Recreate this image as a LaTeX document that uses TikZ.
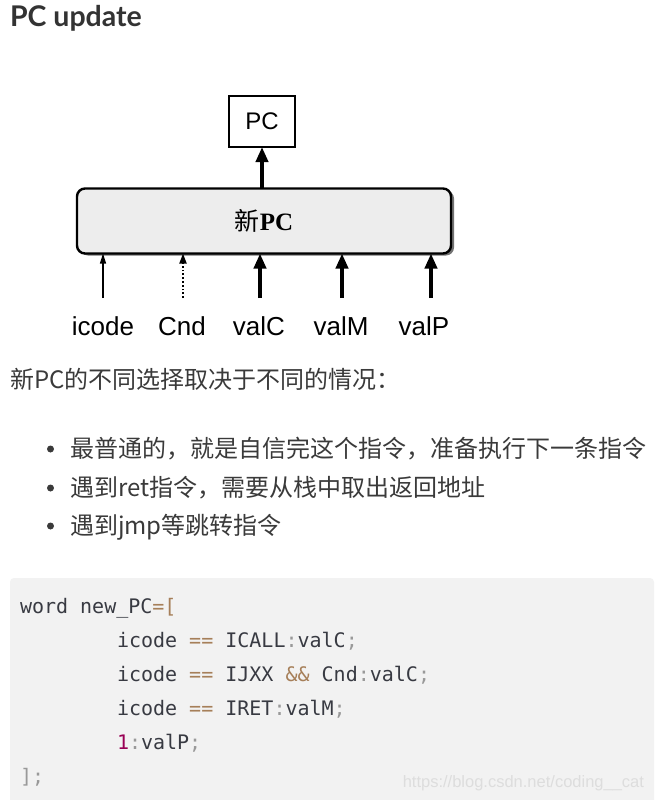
\documentclass[tikz,border=0pt]{standalone}
\usepackage{fontspec}
\setmainfont{Lato}
\newfontfamily\cjkfont{Noto Sans CJK SC}
\newfontfamily\scanfont{Liberation Sans}
\newfontfamily\scanserif{Liberation Serif}
\newfontfamily\codefont{DejaVu Sans Mono}
\usetikzlibrary{arrows.meta, positioning, shadows}
\definecolor{headgray}{HTML}{333333}
\definecolor{bodygray}{HTML}{3A3A3A}
\definecolor{codebg}{HTML}{F2F2F2}
\definecolor{codeink}{HTML}{383A42}
\definecolor{codeop}{HTML}{A67F59}
\definecolor{codepunct}{HTML}{999999}
\definecolor{codenum}{HTML}{990055}
\definecolor{boxfill}{HTML}{EDEDED}
\definecolor{markgray}{HTML}{DDDDDD}

\begin{document}
\begin{tikzpicture}[
  x=1pt, y=-1pt,
  every node/.style={inner sep=0pt, outer sep=0pt},
  heading/.style={anchor=base west, font=\fontsize{28.5pt}{34pt}\selectfont\bfseries, text=headgray},
  bodytext/.style={anchor=base west, font=\cjkfont\fontsize{24pt}{30pt}\selectfont, text=bodygray},
  bulletdot/.style={circle, fill=bodygray, minimum size=7pt},
  codeline/.style={anchor=base west, font=\codefont\fontsize{20pt}{24pt}\selectfont, text=codeink},
  regbox/.style={draw, line width=2pt, fill=white, minimum width=66pt, minimum height=51pt, font=\scanfont\fontsize{24pt}{28pt}\selectfont},
  logicbox/.style={draw, line width=2.4pt, rounded corners=8pt, fill=boxfill, minimum width=374pt, minimum height=65pt,
    font=\fontsize{25pt}{30pt}\selectfont, drop shadow={shadow xshift=3pt, shadow yshift=-2pt, fill=black!55, opacity=1}},
  sig/.style={anchor=base, font=\scanfont\fontsize{26pt}{30pt}\selectfont},
  wordwire/.style={line width=4pt, -{Triangle[length=15pt, width=12pt]}},
  bitwire/.style={line width=1.3pt, -{Triangle[length=10pt, width=6pt]}},
  condwire/.style={line width=1.8pt, dotted, -{Triangle[length=10pt, width=7pt]}}
]
\useasboundingbox (0,0) rectangle (654,800);

\node[heading] (title) at (10,27) {PC update};

\node[regbox] (pc) at (262,121.5) {PC};
\node[logicbox] (newpc) at (264,221) {{\cjkfont 新}{\scanserif\bfseries PC}};
\draw[wordwire] (newpc.north -| pc.south) -- (pc.south);

\node[sig] (icode) at (103,335) {icode};
\node[sig] (cnd) at (182,335) {Cnd};
\node[sig] (valc) at (259,335) {valC};
\node[sig] (valm) at (341,335) {valM};
\node[sig] (valp) at (424,335) {valP};
\coordinate (icode-in) at (103,298);
\coordinate (cnd-in) at (183,298);
\coordinate (valc-in) at (260,298);
\coordinate (valm-in) at (342,298);
\coordinate (valp-in) at (431,298);
\draw[bitwire] (icode-in) -- (newpc.south -| icode-in);
\draw[condwire] (cnd-in) -- (newpc.south -| cnd-in);
\draw[wordwire] (valc-in) -- (newpc.south -| valc-in);
\draw[wordwire] (valm-in) -- (newpc.south -| valm-in);
\draw[wordwire] (valp-in) -- (newpc.south -| valp-in);

\node[bodytext] (intro) at (10,388) {新PC的不同选择取决于不同的情况：};
\node[bulletdot] (dot1) at (50.5,449) {};
\node[bulletdot] (dot2) at (50.5,488) {};
\node[bulletdot] (dot3) at (50.5,526) {};
\node[bodytext] (item1) at (70,457) {最普通的，就是自信完这个指令，准备执行下一条指令};
\node[bodytext] (item2) at (70,496) {遇到ret指令，需要从栈中取出返回地址};
\node[bodytext] (item3) at (70,534.5) {遇到jmp等跳转指令};

\fill[codebg] (10,800) [rounded corners=4pt] -- (10,578) -- (654,578) [sharp corners] -- (654,800) -- cycle;
\node[codeline] (code1) at (20,613) {word new\_PC\textcolor{codeop}{=[}};
\node[codeline] (code2) at (117,647) {icode \textcolor{codeop}{==} ICALL\textcolor{codepunct}{:}valC\textcolor{codepunct}{;}};
\node[codeline] (code3) at (117,681) {icode \textcolor{codeop}{==} IJXX \textcolor{codeop}{\&\&} Cnd\textcolor{codepunct}{:}valC\textcolor{codepunct}{;}};
\node[codeline] (code4) at (117,715) {icode \textcolor{codeop}{==} IRET\textcolor{codepunct}{:}valM\textcolor{codepunct}{;}};
\node[codeline] (code5) at (117,749) {\textcolor{codenum}{1}\textcolor{codepunct}{:}valP\textcolor{codepunct}{;}};
\node[codeline] (code6) at (20,783) {\textcolor{codepunct}{];}};
\node[anchor=base east, font=\scanfont\fontsize{16.5pt}{20pt}\selectfont, text=markgray] (mark) at (644,787) {https://blog.csdn.net/coding\_\_cat};
\end{tikzpicture}
\end{document}
